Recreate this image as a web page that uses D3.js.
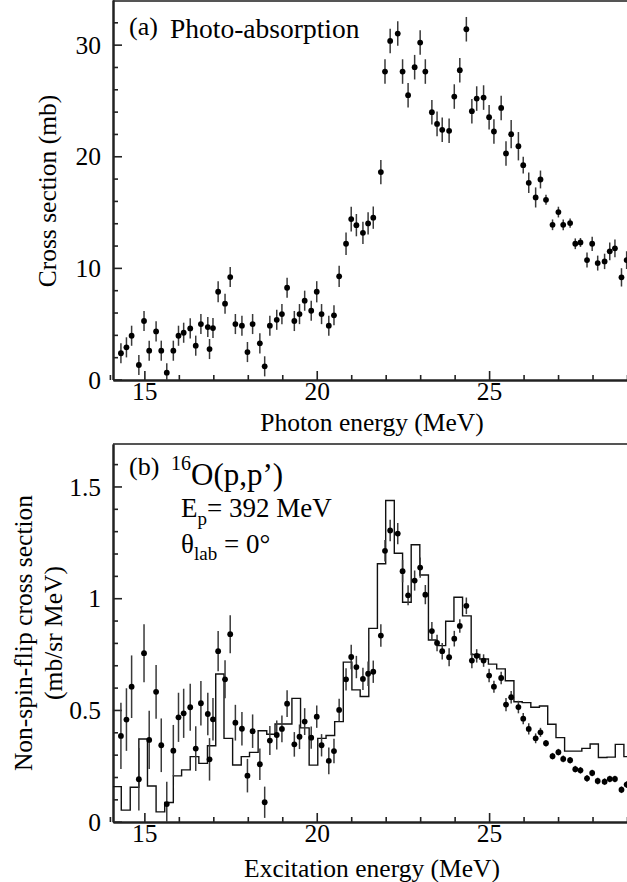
<!DOCTYPE html>
<html>
<head>
<meta charset="utf-8">
<script src="https://cdn.jsdelivr.net/npm/d3@7"></script>
<style>
  html, body { margin: 0; padding: 0; background: #fff; }
  svg { display: block; }
  text { font-family: "Liberation Serif", "Times New Roman", "DejaVu Serif", serif; fill: #000; }
</style>
</head>
<body>
<svg id="chart" width="627" height="882"></svg>
<script>
// ---------------- DATA ----------------
const energy = [
  14.32, 14.48, 14.63, 14.84, 14.99, 15.14, 15.34, 15.49, 15.65, 15.84,
  15.99, 16.14, 16.33, 16.49, 16.64, 16.84, 16.89, 16.99, 17.14, 17.34,
  17.49, 17.64, 17.83, 17.99, 18.14, 18.35, 18.49, 18.64, 18.84, 18.99,
  19.14, 19.35, 19.50, 19.65, 19.84, 20.00, 20.14, 20.35, 20.50, 20.65,
  20.85, 21.00, 21.15, 21.34, 21.49, 21.64, 21.86, 21.98, 22.13, 22.35,
  22.49, 22.65, 22.84, 23.00, 23.15, 23.34, 23.49, 23.64, 23.84, 23.99,
  24.15, 24.34, 24.50, 24.64, 24.84, 25.00, 25.14, 25.35, 25.49, 25.64,
  25.85, 25.99, 26.15, 26.35, 26.49, 26.65, 26.84, 27.01, 27.15, 27.35,
  27.50, 27.65, 27.84, 27.99, 28.15, 28.35, 28.50, 28.65, 28.84, 28.99
];
// (a) photo-absorption cross section (mb)
const photoAbs = [
  2.35, 2.88, 3.92, 1.30, 5.24, 2.58, 4.31, 2.58, 0.61, 2.58,
  3.92, 4.19, 4.58, 3.03, 4.97, 4.70, 2.73, 4.61, 7.86, 6.79,
  9.18, 4.97, 4.82, 2.46, 4.97, 3.24, 1.18, 4.82, 5.35, 5.86,
  8.22, 5.24, 5.86, 7.06, 6.16, 7.86, 5.86, 4.82, 5.75, 9.24,
  12.16, 14.37, 13.83, 13.14, 13.98, 14.50, 18.58, 27.59, 30.33, 30.99,
  27.59, 25.47, 27.98, 30.19, 27.59, 23.95, 22.90, 22.37, 22.28, 25.35,
  27.71, 31.38, 24.04, 25.17, 25.26, 23.50, 22.22, 24.33, 20.25, 21.98,
  20.90, 19.20, 17.62, 16.31, 17.92, 16.10, 13.86, 15.00, 13.86, 14.01,
  12.16, 12.28, 10.70, 12.16, 10.43, 10.58, 11.48, 11.75, 9.15, 10.70
];
const photoErr = [
  0.9, 0.9, 0.9, 0.9, 0.9, 0.9, 0.9, 0.9, 0.85, 0.9,
  0.9, 0.9, 0.9, 0.9, 0.9, 0.9, 0.9, 0.9, 0.95, 0.9,
  0.9, 0.9, 0.9, 0.9, 0.9, 0.9, 0.9, 0.9, 0.9, 0.9,
  0.9, 0.9, 0.9, 0.9, 0.9, 0.95, 0.9, 0.9, 0.9, 0.95,
  1.0, 1.1, 1.0, 1.0, 1.0, 1.0, 1.08, 1.1, 1.1, 1.1,
  1.1, 1.1, 1.1, 1.1, 1.1, 1.1, 1.1, 1.1, 1.1, 1.1,
  1.1, 1.1, 1.1, 1.1, 1.1, 1.1, 1.1, 1.1, 1.1, 1.27,
  1.27, 0.75, 0.92, 0.9, 0.8, 0.45, 0.48, 0.48, 0.48, 0.42,
  0.48, 0.4, 0.67, 0.64, 0.67, 0.69, 0.8, 0.8, 0.82, 0.8
];
// (b) 16O(p,p') non-spin-flip cross section (mb/sr MeV)
const nsfCross = [
  0.384, 0.457, 0.604, 0.190, 0.754, 0.366, 0.581, 0.342, 0.079, 0.318,
  0.467, 0.485, 0.512, 0.327, 0.530, 0.482, 0.279, 0.458, 0.763, 0.637,
  0.839, 0.443, 0.416, 0.206, 0.405, 0.257, 0.087, 0.363, 0.388, 0.415,
  0.528, 0.346, 0.380, 0.448, 0.376, 0.470, 0.342, 0.272, 0.316, 0.500,
  0.637, 0.737, 0.692, 0.639, 0.662, 0.671, 0.833, 1.212, 1.303, 1.289,
  1.121, 1.013, 1.079, 1.137, 1.016, 0.853, 0.800, 0.763, 0.736, 0.819,
  0.876, 0.966, 0.721, 0.742, 0.721, 0.654, 0.604, 0.643, 0.524, 0.557,
  0.513, 0.461, 0.415, 0.373, 0.400, 0.351, 0.293, 0.311, 0.281, 0.275,
  0.235, 0.230, 0.194, 0.218, 0.182, 0.179, 0.191, 0.191, 0.143, 0.166
];
const nsfErr = [
  0.148, 0.14, 0.14, 0.14, 0.13, 0.13, 0.12, 0.12, 0.10, 0.115,
  0.11, 0.11, 0.105, 0.10, 0.10, 0.095, 0.095, 0.095, 0.09, 0.085,
  0.085, 0.08, 0.075, 0.075, 0.075, 0.07, 0.07, 0.065, 0.065, 0.06,
  0.06, 0.055, 0.055, 0.06, 0.05, 0.05, 0.05, 0.06, 0.055, 0.05,
  0.05, 0.055, 0.05, 0.05, 0.055, 0.05, 0.05, 0.048, 0.048, 0.048,
  0.05, 0.045, 0.045, 0.045, 0.043, 0.04, 0.037, 0.037, 0.04, 0.035,
  0.03, 0.037, 0.034, 0.03, 0.028, 0.03, 0.027, 0.028, 0.03, 0.028,
  0.028, 0.025, 0.025, 0.022, 0.02, 0.015, 0.015, 0.015, 0.015, 0.015,
  0.015, 0.015, 0.015, 0.015, 0.015, 0.015, 0.015, 0.015, 0.015, 0.015
];
// (b) histogram (calculation): bin edges (MeV) and contents
const histEdges = [
  14.08, 14.33, 14.59, 14.84, 15.09, 15.34, 15.59, 15.84, 16.08, 16.33,
  16.58, 16.83, 17.07, 17.31, 17.56, 17.81, 18.05, 18.30, 18.55, 18.79,
  19.03, 19.28, 19.53, 19.78, 20.03, 20.27, 20.52, 20.77, 21.02, 21.26,
  21.51, 21.76, 22.00, 22.25, 22.49, 22.74, 22.99, 23.24, 23.49, 23.74,
  23.98, 24.23, 24.48, 24.73, 24.98, 25.22, 25.47, 25.72, 25.96, 26.21,
  26.46, 26.70, 26.94, 27.19, 27.44, 27.69, 27.93, 28.17, 28.42, 28.66,
  28.91, 29.16
];
const histValues = [
  0.157, 0.052, 0.154, 0.370, 0.160, 0.044, 0.086, 0.205, 0.232, 0.291,
  0.261, 0.340, 0.661, 0.373, 0.254, 0.291, 0.310, 0.407, 0.391, 0.437,
  0.437, 0.552, 0.420, 0.253, 0.373, 0.386, 0.448, 0.714, 0.590, 0.560,
  0.865, 1.154, 1.437, 1.201, 0.982, 1.239, 1.104, 0.813, 0.788, 0.897,
  1.004, 0.921, 0.748, 0.728, 0.705, 0.684, 0.631, 0.537, 0.533, 0.512,
  0.518, 0.436, 0.376, 0.316, 0.316, 0.328, 0.348, 0.287, 0.289, 0.346,
  0.291
];
// ticks
const xTicksMajor = [15, 20, 25];
const xTicksMinor = [14, 16, 17, 18, 19, 21, 22, 23, 24, 26, 27, 28, 29];
const yTicksA = [0, 10, 20, 30];
const yTicksAMinor = [2, 4, 6, 8, 12, 14, 16, 18, 22, 24, 26, 28, 32];
const yTicksB = [0, 0.5, 1, 1.5];
const yTickLabelsB = ["0", "0.5", "1", "1.5"];
const yTicksBMinor = [0.1, 0.2, 0.3, 0.4, 0.6, 0.7, 0.8, 0.9, 1.1, 1.2, 1.3, 1.4, 1.6];

// ---------------- LAYOUT ----------------
const SERIF = '"Liberation Serif", "Times New Roman", "DejaVu Serif", serif';
const svg = d3.select("#chart");
const L = 113, R = 627;
const FONT = 25.5;
const axisColor = "#222";

const x = d3.scaleLinear().domain([14.09, 29.0]).range([L, R]);

function label(sel) { return sel.attr("font-family", SERIF).style("font-family", SERIF); }

function drawPanel(cfg) {
  const { top, bottom, y, yMaj, yMajLabels, yMin, id } = cfg;
  const g = svg.append("g");

  svg.append("clipPath").attr("id", "clip" + id)
    .append("rect").attr("x", L).attr("y", top).attr("width", R - L + 2).attr("height", bottom - top);

  g.append("line").attr("x1", L).attr("x2", R + 2).attr("y1", top).attr("y2", top)
    .attr("stroke", "#555").attr("stroke-width", 2);

  const xMaj = g.append("g").attr("transform", `translate(0,${bottom})`)
    .call(d3.axisBottom(x).tickValues(xTicksMajor).tickSizeInner(-9).tickSizeOuter(0).tickPadding(2).tickFormat(d3.format("d")));
  const xMin = g.append("g").attr("transform", `translate(0,${bottom})`)
    .call(d3.axisBottom(x).tickValues(xTicksMinor).tickSizeInner(-5).tickSizeOuter(0).tickFormat(""));
  const yMajG = g.append("g").attr("transform", `translate(${L},0)`)
    .call(d3.axisLeft(y).tickValues(yMaj).tickSizeInner(-9).tickSizeOuter(0).tickPadding(12)
      .tickFormat((d, i) => yMajLabels[i]));
  const yMinG = g.append("g").attr("transform", `translate(${L},0)`)
    .call(d3.axisLeft(y).tickValues(yMin).tickSizeInner(-5).tickSizeOuter(0).tickFormat(""));

  [xMaj, xMin, yMajG, yMinG].forEach(a => {
    a.attr("font-family", SERIF);
    a.select(".domain").attr("stroke", axisColor).attr("stroke-width", 2);
    a.selectAll(".tick line").attr("stroke", axisColor).attr("stroke-width", 1.6);
    label(a.selectAll("text").attr("font-size", FONT).attr("fill", "#000"));
  });
  yMajG.selectAll("text").attr("dy", "0.34em");
  return g;
}

// ---------- Panel (a) ----------
const yA = d3.scaleLinear().domain([0, 34]).range([379.5, 0]);
drawPanel({ top: 1, bottom: 380, y: yA, yMaj: yTicksA, yMajLabels: yTicksA.map(String), yMin: yTicksAMinor, id: "A" });

const ptsA = energy.map((e, i) => ({ e, v: photoAbs[i], s: photoErr[i] }));
const dataA = svg.append("g").attr("clip-path", "url(#clipA)");
dataA.selectAll("line.err").data(ptsA).join("line")
  .attr("x1", d => x(d.e)).attr("x2", d => x(d.e))
  .attr("y1", d => yA(d.v - d.s)).attr("y2", d => yA(d.v + d.s))
  .attr("stroke", "#3a3a3a").attr("stroke-width", 1.5);
dataA.selectAll("circle").data(ptsA).join("circle")
  .attr("cx", d => x(d.e)).attr("cy", d => yA(d.v)).attr("r", 2.9).attr("fill", "#000");

label(svg.append("text").attr("x", 129).attr("y", 35).attr("font-size", 26).text("(a)"));
label(svg.append("text").attr("x", 170).attr("y", 38).attr("font-size", 27.5).text("Photo-absorption"));

label(svg.append("text").attr("x", 372).attr("y", 431).attr("text-anchor", "middle").attr("font-size", FONT)
  .text("Photon energy (MeV)"));
label(svg.append("text").attr("transform", "translate(56,191) rotate(-90)").attr("text-anchor", "middle")
  .attr("font-size", FONT).text("Cross section (mb)"));

// ---------- Panel (b) ----------
const yB = d3.scaleLinear().domain([0, 1.69]).range([821.7, 444]);
drawPanel({ top: 444, bottom: 822, y: yB, yMaj: yTicksB, yMajLabels: yTickLabelsB, yMin: yTicksBMinor, id: "B" });

const dataB = svg.append("g").attr("clip-path", "url(#clipB)");
const histPts = histValues.map((v, i) => [histEdges[i], v]);
histPts.push([histEdges[histEdges.length - 1], histValues[histValues.length - 1]]);
dataB.append("path").datum(histPts)
  .attr("d", d3.line().x(d => x(d[0])).y(d => yB(d[1])).curve(d3.curveStepAfter))
  .attr("fill", "none").attr("stroke", "#111").attr("stroke-width", 1.4);

const ptsB = energy.map((e, i) => ({ e, v: nsfCross[i], s: nsfErr[i] }));
dataB.selectAll("line.err").data(ptsB).join("line")
  .attr("x1", d => x(d.e)).attr("x2", d => x(d.e))
  .attr("y1", d => yB(d.v - d.s)).attr("y2", d => yB(d.v + d.s))
  .attr("stroke", "#3a3a3a").attr("stroke-width", 1.5);
dataB.selectAll("circle").data(ptsB).join("circle")
  .attr("cx", d => x(d.e)).attr("cy", d => yB(d.v)).attr("r", 2.9).attr("fill", "#000");

label(svg.append("text").attr("x", 129).attr("y", 475).attr("font-size", 26).text("(b)"));
const t1 = label(svg.append("text").attr("x", 171).attr("y", 485));
t1.append("tspan").attr("font-size", 20).attr("dy", -15).text("16");
t1.append("tspan").attr("font-size", 31).attr("dy", 15).text("O(p,p’)");

const t2 = label(svg.append("text").attr("x", 181).attr("y", 517).attr("font-size", 27));
t2.append("tspan").text("E");
t2.append("tspan").attr("font-size", 19).attr("dy", 8).text("p");
t2.append("tspan").attr("dy", -8).text("= 392 MeV");

const t3 = label(svg.append("text").attr("x", 181).attr("y", 553).attr("font-size", 27));
t3.append("tspan").text("θ");
t3.append("tspan").attr("font-size", 19).attr("dy", 7).text("lab");
t3.append("tspan").attr("dy", -7).text(" = 0°");

label(svg.append("text").attr("x", 372).attr("y", 877).attr("text-anchor", "middle").attr("font-size", FONT)
  .text("Excitation energy (MeV)"));
label(svg.append("text").attr("transform", "translate(32,633) rotate(-90)").attr("text-anchor", "middle")
  .attr("font-size", FONT).text("Non-spin-flip cross section"));
label(svg.append("text").attr("transform", "translate(62,633) rotate(-90)").attr("text-anchor", "middle")
  .attr("font-size", FONT).text("(mb/sr MeV)"));
</script>
</body>
</html>
